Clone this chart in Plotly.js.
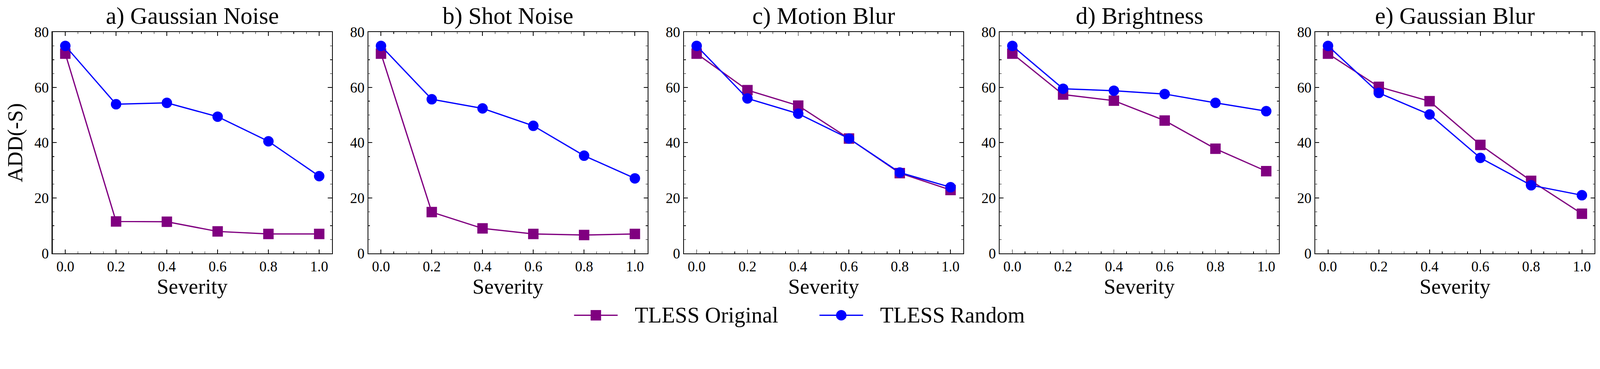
<!DOCTYPE html>
<html>
<head>
<meta charset="utf-8">
<script src="https://cdn.plot.ly/plotly-3.0.1.min.js"></script>
<style>
  html, body { margin: 0; padding: 0; background: #fff; overflow: hidden; }
</style>
</head>
<body>
<div id="plot"></div>
<script>
// severity levels on the x axis
var severity = [0.0, 0.2, 0.4, 0.6, 0.8, 1.0];

var panelTitles = ['a) Gaussian Noise', 'b) Shot Noise', 'c) Motion Blur', 'd) Brightness', 'e) Gaussian Blur'];
var seriesNames = ['TLESS Original', 'TLESS Random'];
var seriesColors = ['#800080', '#0000ff'];
var seriesSymbols = ['square', 'circle'];

// ADD(-S) values
var originalGaussianNoise = [72.2, 11.5, 11.4, 7.9, 7.0, 7.0];
var randomGaussianNoise   = [75.0, 53.9, 54.4, 49.4, 40.5, 27.9];
var originalShotNoise     = [72.2, 14.9, 9.0, 7.0, 6.6, 7.0];
var randomShotNoise       = [75.0, 55.7, 52.4, 46.1, 35.3, 27.1];
var originalMotionBlur    = [72.2, 59.0, 53.4, 41.5, 29.0, 22.9];
var randomMotionBlur      = [75.0, 56.0, 50.5, 41.5, 29.2, 23.9];
var originalBrightness    = [72.2, 57.4, 55.2, 48.0, 37.8, 29.7];
var randomBrightness      = [75.0, 59.5, 58.8, 57.6, 54.4, 51.4];
var originalGaussianBlur  = [72.2, 60.2, 55.0, 39.2, 26.2, 14.3];
var randomGaussianBlur    = [75.0, 58.0, 50.2, 34.5, 24.6, 21.0];

var originalSeries = [originalGaussianNoise, originalShotNoise, originalMotionBlur, originalBrightness, originalGaussianBlur];
var randomSeries = [randomGaussianNoise, randomShotNoise, randomMotionBlur, randomBrightness, randomGaussianBlur];

// design is 4440x945; fit whatever the window really is
var W0 = 4440, H0 = 945;
var vw = window.innerWidth || W0, vh = window.innerHeight || H0;
var k = Math.min(vw / W0, vh / H0);
var W = Math.round(W0 * k), H = Math.round(H0 * k);
document.getElementById('plot').style.width = W + 'px';
document.getElementById('plot').style.height = H + 'px';

var serif = 'Liberation Serif, Times New Roman, serif';

// panel geometry in design pixels
var panelLeft = 146, panelWidth = 775, panelGap = 101;
var plotTop = 89, plotBottom = 703;

// paper coords from design pixels
function px(x) { return x / W0; }
function py(y) { return (H0 - y) / H0; }

var data = [];
var layout = {
    width: W,
    height: H,
    margin: { l: 0, r: 0, t: 0, b: 0 },
    paper_bgcolor: '#fff',
    plot_bgcolor: '#fff',
    font: { family: serif, color: '#000', size: 40 * k },
    showlegend: false,
    annotations: [],
    shapes: []
};

for (var i = 0; i < 5; i++) {
    var ax = i === 0 ? '' : String(i + 1);
    var x0 = panelLeft + i * (panelWidth + panelGap);
    var ys = [originalSeries[i], randomSeries[i]];

    for (var s = 0; s < 2; s++) {
        data.push({
            x: severity,
            y: ys[s],
            name: seriesNames[s],
            mode: 'lines+markers',
            type: 'scatter',
            xaxis: 'x' + ax,
            yaxis: 'y' + ax,
            line: { color: seriesColors[s], width: 3.5 * k },
            marker: { symbol: seriesSymbols[s], size: 29 * k, color: seriesColors[s] }
        });
    }

    layout['xaxis' + ax] = {
        domain: [px(x0), px(x0 + panelWidth)],
        anchor: 'y' + ax,
        range: [-0.05, 1.05],
        tick0: 0,
        dtick: 0.2,
        tickformat: '.1f',
        ticks: 'inside',
        ticklen: 11 * k,
        tickwidth: 2 * k,
        tickcolor: '#000',
        minor: { ticks: 'inside', dtick: 0.05, ticklen: 5 * k, tickwidth: 1.5 * k, tickcolor: '#000' },
        showline: true,
        linecolor: '#000',
        linewidth: 2.5 * k,
        mirror: 'ticks',
        showgrid: false,
        zeroline: false,
        tickfont: { family: serif, size: 40 * k, color: '#000' },
        title: { text: 'Severity', font: { family: serif, size: 59 * k, color: '#000' }, standoff: 12 * k }
    };
    layout['yaxis' + ax] = {
        domain: [py(plotBottom), py(plotTop)],
        anchor: 'x' + ax,
        range: [0, 80],
        tick0: 0,
        dtick: 20,
        ticks: 'inside',
        ticklen: 11 * k,
        tickwidth: 2 * k,
        tickcolor: '#000',
        minor: { ticks: 'inside', dtick: 5, ticklen: 5 * k, tickwidth: 1.5 * k, tickcolor: '#000' },
        showline: true,
        linecolor: '#000',
        linewidth: 2.5 * k,
        mirror: 'ticks',
        showgrid: false,
        zeroline: false,
        tickfont: { family: serif, size: 40 * k, color: '#000' },
        title: i === 0 ? { text: 'ADD(-S)', font: { family: serif, size: 59 * k, color: '#000' }, standoff: 14 * k } : { text: '' }
    };

    layout.annotations.push({
        text: panelTitles[i],
        xref: 'x' + ax + ' domain',
        yref: 'y' + ax + ' domain',
        x: 0.5,
        y: 1,
        xanchor: 'center',
        yanchor: 'bottom',
        yshift: 6 * k,
        showarrow: false,
        font: { family: serif, size: 66 * k, color: '#000' }
    });
}

// legend below the panels: line + marker glyph, then the label
var legendY = 875, legendLineStart = [1593, 2274], legendLineLen = 121, legendMarker = 29, legendTextGap = 45;
for (var s = 0; s < 2; s++) {
    var lx = legendLineStart[s];
    var cx = lx + legendLineLen / 2;
    layout.shapes.push({
        type: 'line', xref: 'paper', yref: 'paper',
        x0: px(lx), x1: px(lx + legendLineLen), y0: py(legendY), y1: py(legendY),
        line: { color: seriesColors[s], width: 3.5 * k }
    });
    layout.shapes.push({
        type: seriesSymbols[s] === 'square' ? 'rect' : 'circle', xref: 'paper', yref: 'paper',
        x0: px(cx - legendMarker / 2), x1: px(cx + legendMarker / 2),
        y0: py(legendY + legendMarker / 2), y1: py(legendY - legendMarker / 2),
        fillcolor: seriesColors[s], line: { width: 0 }
    });
    layout.annotations.push({
        text: seriesNames[s],
        xref: 'paper', yref: 'paper',
        x: px(lx + legendLineLen + legendTextGap), y: py(legendY),
        xanchor: 'left', yanchor: 'middle',
        showarrow: false,
        font: { family: serif, size: 61 * k, color: '#000' }
    });
}

Plotly.newPlot('plot', data, layout, { staticPlot: true });
</script>
</body>
</html>
